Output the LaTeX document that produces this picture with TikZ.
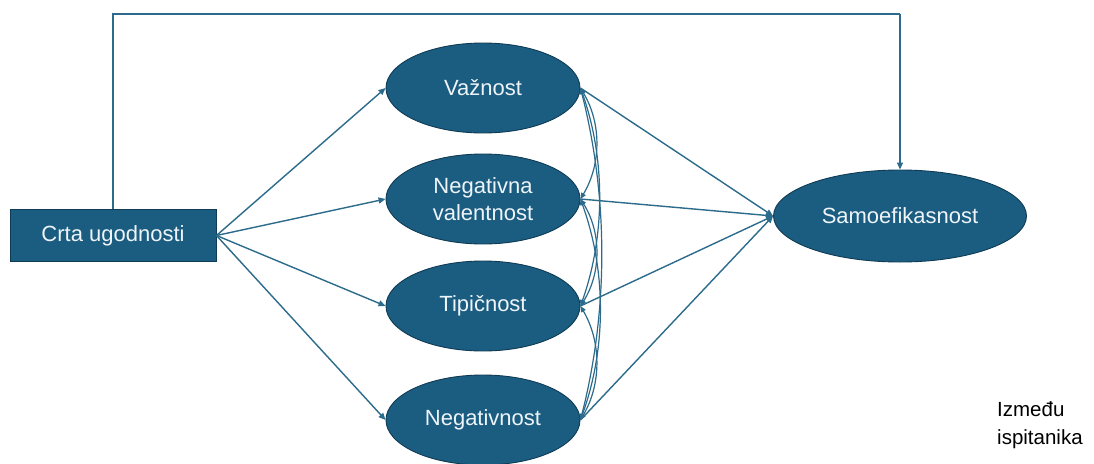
\documentclass[tikz,border=0pt]{standalone}
\usepackage{fontspec}
\setmainfont{Liberation Sans}
\usetikzlibrary{shapes.geometric,arrows.meta}
\definecolor{nodefill}{HTML}{1B5D81}
\definecolor{nodeline}{HTML}{0F3B54}
\definecolor{edgecol}{HTML}{2C6B8B}
\definecolor{txtcol}{HTML}{EEF4F8}
\begin{document}
\begin{tikzpicture}[x=1pt,y=-1pt,
  var/.style={ellipse,draw=nodeline,line width=0.9pt,fill=nodefill,text=txtcol,
    minimum width=194pt,minimum height=90pt,inner sep=0pt,align=center,
    font=\fontsize{22}{27}\selectfont},
  obs/.style={rectangle,draw=nodeline,line width=0.9pt,fill=nodefill,text=txtcol,
    minimum width=206pt,minimum height=52pt,inner sep=0pt,
    font=\fontsize{22}{27}\selectfont},
  arr/.style={draw=edgecol,line width=1.4pt,-{Triangle[length=7pt,width=6pt]}},
  cov/.style={draw=edgecol,line width=1.2pt,
    {Triangle[length=6pt,width=5pt]}-{Triangle[length=6pt,width=5pt]}},
  plain/.style={draw=edgecol,line width=1.4pt},
  note/.style={align=left,text=black,font=\fontsize{20.5}{28}\selectfont,inner sep=0pt}]
\useasboundingbox (0,0) rectangle (1094,463);
\fill[white] (0,0) rectangle (1094,463);

\node[obs] (crta) at (113,235.5) {Crta ugodnosti};
\node[var] (v1) at (483,88) {Važnost};
\node[var] (v2) at (483,199) {Negativna\\valentnost};
\node[var] (v3) at (483,306) {Tipičnost};
\node[var] (v4) at (483,420) {Negativnost};
\node[var,minimum width=253pt,minimum height=92pt] (samo) at (900,216) {Samoefikasnost};
\node[note,anchor=north west] (izm) at (997,401) {Između\\ispitanika};

% top path
\coordinate (c1) at (crta.north |- 0,14);
\coordinate (c2) at (samo.north |- 0,14);
\draw[plain] (crta.north) -- (c1) -- (c2);
\draw[arr] (c2) -- (samo.north);

% predictor to mediators
\foreach \m in {v1,v2,v3,v4}{
  \draw[arr] (crta.east) -- (\m.west);
  \draw[arr] (\m.east) -- (samo.west);
}

% covariances
\draw[cov] (v1.east) .. controls +(21,35) and +(21,-35) .. (v2.east);
\draw[cov] (v2.east) .. controls +(21,33) and +(21,-33) .. (v3.east);
\draw[cov] (v3.east) .. controls +(21,36) and +(21,-36) .. (v4.east);
\draw[cov] (v1.east) .. controls +(25,70) and +(25,-70) .. (v3.east);
\draw[cov] (v2.east) .. controls +(26,72) and +(26,-72) .. (v4.east);
\draw[cov] (v1.east) .. controls +(28,110) and +(28,-110) .. (v4.east);
\end{tikzpicture}
\end{document}
